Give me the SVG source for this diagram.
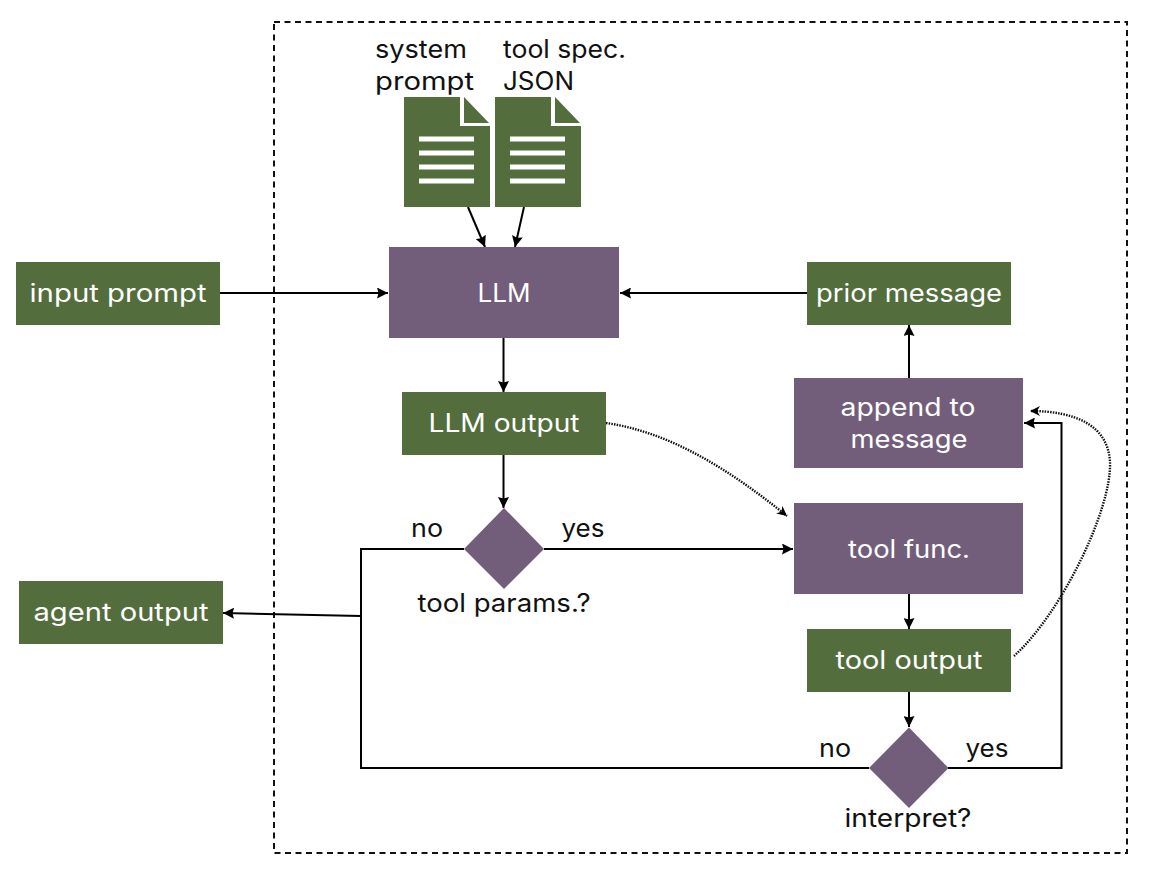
<svg xmlns="http://www.w3.org/2000/svg" width="1150" height="880" viewBox="0 0 1150 880">
<style>
text{font-family:"Inter","Open Sans","Liberation Sans",sans-serif;font-size:25px;text-anchor:middle;fill:#111}
.w{fill:#fff}
.g{fill:#536d3d}
.p{fill:#725e7a}
.c{fill:none;stroke:#000;stroke-width:2}
.d{fill:none;stroke:#111;stroke-width:2.400;stroke-dasharray:1.500 1.200}
.s{text-anchor:start}
</style>
<defs>
<marker id="a" markerUnits="userSpaceOnUse" markerWidth="12" markerHeight="11" refX="11" refY="5.500" orient="auto"><path d="M0 0L11 5.500L0 11L1.500 5.500Z" fill="#000"/></marker>
<marker id="b" markerUnits="userSpaceOnUse" markerWidth="11" markerHeight="10" refX="10" refY="5" orient="auto"><path d="M0 0L10 5L0 10L3 5Z" fill="#000"/></marker>
<g id="doc"><path class="g" d="M0 0H56V29H86V110H0Z"/><path class="g" d="M60 0L85 26H60Z"/><g fill="#fff"><rect x="15" y="39.500" width="55" height="5"/><rect x="15" y="53.500" width="55" height="5"/><rect x="15" y="67.500" width="55" height="5"/><rect x="15" y="81.500" width="55" height="5"/></g></g>
</defs>
<rect width="1150" height="880" fill="#fff"/>
<rect x="274" y="22" width="853" height="831" fill="none" stroke="#111" stroke-width="2" stroke-dasharray="6 4.500"/>
<g id="connectors">
<path class="c" marker-end="url(#a)" d="M468 207L485 247"/>
<path class="c" marker-end="url(#a)" d="M524 207L515 247"/>
<path class="c" marker-end="url(#a)" d="M220 293H388"/>
<path class="c" marker-end="url(#a)" d="M807 293H620"/>
<path class="c" marker-end="url(#a)" d="M909 378V325"/>
<path class="c" marker-end="url(#a)" d="M503.500 338V392"/>
<path class="c" marker-end="url(#a)" d="M503.500 455V508"/>
<path class="c" marker-end="url(#a)" d="M544 549H793"/>
<path class="c" marker-end="url(#a)" d="M909 594V629"/>
<path class="c" marker-end="url(#a)" d="M909 692V727"/>
<path class="c" d="M464 549H361V768H869"/>
<path class="c" marker-end="url(#a)" d="M361 616L223 613"/>
<path class="c" marker-end="url(#a)" d="M948 768H1061.500V423H1024"/>
<path class="d" marker-end="url(#b)" d="M606 423C670 432 730 470 787 516"/>
<path class="d" marker-end="url(#b)" d="M1014 656C1060 615 1112 510 1110 462C1108 425 1075 411 1030 411"/>
</g>
<g id="input-prompt"><rect class="g" x="16" y="262" width="204" height="63"/><text class="w" x="118" y="302" textLength="177" lengthAdjust="spacingAndGlyphs">input prompt</text></g>
<g id="llm"><rect class="p" x="389" y="247" width="230" height="91"/><text class="w" x="504" y="302" textLength="53" lengthAdjust="spacingAndGlyphs">LLM</text></g>
<g id="prior-message"><rect class="g" x="807" y="262" width="204" height="63"/><text class="w" x="909" y="302" textLength="186" lengthAdjust="spacingAndGlyphs">prior message</text></g>
<g id="append-to-message"><rect class="p" x="794" y="378" width="229" height="90"/><text class="w" x="908" y="416" textLength="135" lengthAdjust="spacingAndGlyphs">append to</text><text class="w" x="909" y="448" textLength="117" lengthAdjust="spacingAndGlyphs">message</text></g>
<g id="llm-output"><rect class="g" x="402" y="392" width="204" height="63"/><text class="w" x="504" y="432" textLength="151" lengthAdjust="spacingAndGlyphs">LLM output</text></g>
<g id="tool-params"><path class="p" d="M504 508L544 549L504 589L464 549Z"/><text x="504" y="612" textLength="173" lengthAdjust="spacingAndGlyphs">tool params.?</text></g>
<text x="427" y="537" textLength="32" lengthAdjust="spacingAndGlyphs">no</text>
<text x="583" y="537" textLength="43" lengthAdjust="spacingAndGlyphs">yes</text>
<g id="tool-func"><rect class="p" x="794" y="503" width="229" height="91"/><text class="w" x="909" y="558" textLength="122" lengthAdjust="spacingAndGlyphs">tool func.</text></g>
<g id="tool-output"><rect class="g" x="807" y="629" width="204" height="63"/><text class="w" x="909" y="669" textLength="147" lengthAdjust="spacingAndGlyphs">tool output</text></g>
<g id="agent-output"><rect class="g" x="19" y="581" width="204" height="63"/><text class="w" x="121" y="621" textLength="175" lengthAdjust="spacingAndGlyphs">agent output</text></g>
<g id="interpret"><path class="p" d="M909 727.500L948.500 768L909 808L869 768Z"/><text x="908" y="827" textLength="127" lengthAdjust="spacingAndGlyphs">interpret?</text></g>
<text x="835" y="757" textLength="32" lengthAdjust="spacingAndGlyphs">no</text>
<text x="987" y="757" textLength="43" lengthAdjust="spacingAndGlyphs">yes</text>
<g id="system-prompt"><use href="#doc" x="404" y="97"/><text class="s" x="375" y="58" textLength="92" lengthAdjust="spacingAndGlyphs">system</text><text class="s" x="375" y="90" textLength="99" lengthAdjust="spacingAndGlyphs">prompt</text></g>
<g id="tool-spec"><use href="#doc" x="495" y="97"/><text class="s" x="503" y="58" textLength="123" lengthAdjust="spacingAndGlyphs">tool spec.</text><text class="s" x="503" y="90" textLength="71" lengthAdjust="spacingAndGlyphs">JSON</text></g>
</svg>
